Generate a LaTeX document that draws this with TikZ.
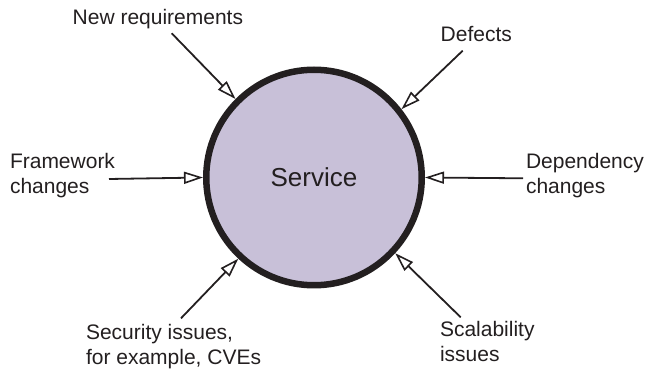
\documentclass[tikz,border=0pt]{standalone}
\usepackage{fontspec}
\setmainfont{Liberation Sans}
\usetikzlibrary{arrows.meta}
\definecolor{svcfill}{RGB}{200,192,216}
\definecolor{ink}{RGB}{35,31,32}
\tikzset{
  svcnode/.style={circle, draw=ink, line width=6.5pt, fill=svcfill, minimum size=215.5pt, inner sep=0pt, text=ink, font=\fontsize{26}{30}\selectfont},
  lbl/.style={inner sep=0pt, outer sep=0pt, text=ink, align=left, font=\fontsize{21}{25}\selectfont},
  arr/.style={draw=ink, line width=1.8pt, -{Triangle[open, length=19pt, width=12pt, line width=1.6pt]}}
}
\begin{document}
\begin{tikzpicture}[x=1pt, y=-1pt]
\useasboundingbox (0,0) rectangle (646,371);
\node[svcnode] (svc) at (314,177.5) {Service};

\node[lbl, anchor=base west] (nr) at (72.7,25) {New requirements};
\node[lbl, anchor=base west] (df) at (440.7,41.7) {Defects};
\node[lbl, anchor=base west] (fw) at (10,194) {Framework\\changes};
\node[lbl, anchor=base west] (dp) at (526,193.3) {Dependency\\changes};
\node[lbl, anchor=base west] (sc) at (86,365) {Security issues,\\for example, CVEs};
\node[lbl, anchor=base west] (sl) at (440,361.7) {Scalability\\issues};

\coordinate (nrS) at (171.7,33.3);
\coordinate (dfS) at (462.7,50.7);
\coordinate (fwS) at (109,179);
\coordinate (dpS) at (523,178.3);
\coordinate (scS) at (181,318.3);
\coordinate (slS) at (460.7,317.3);

\draw[arr] (nrS) -- (svc.135.5);
\draw[arr] (dfS) -- (svc.38.4);
\draw[arr] (fwS) -- (svc.180.5);
\draw[arr] (dpS) -- (svc.0.3);
\draw[arr] (scS) -- (svc.227);
\draw[arr] (slS) -- (svc.317.8);
\end{tikzpicture}
\end{document}
